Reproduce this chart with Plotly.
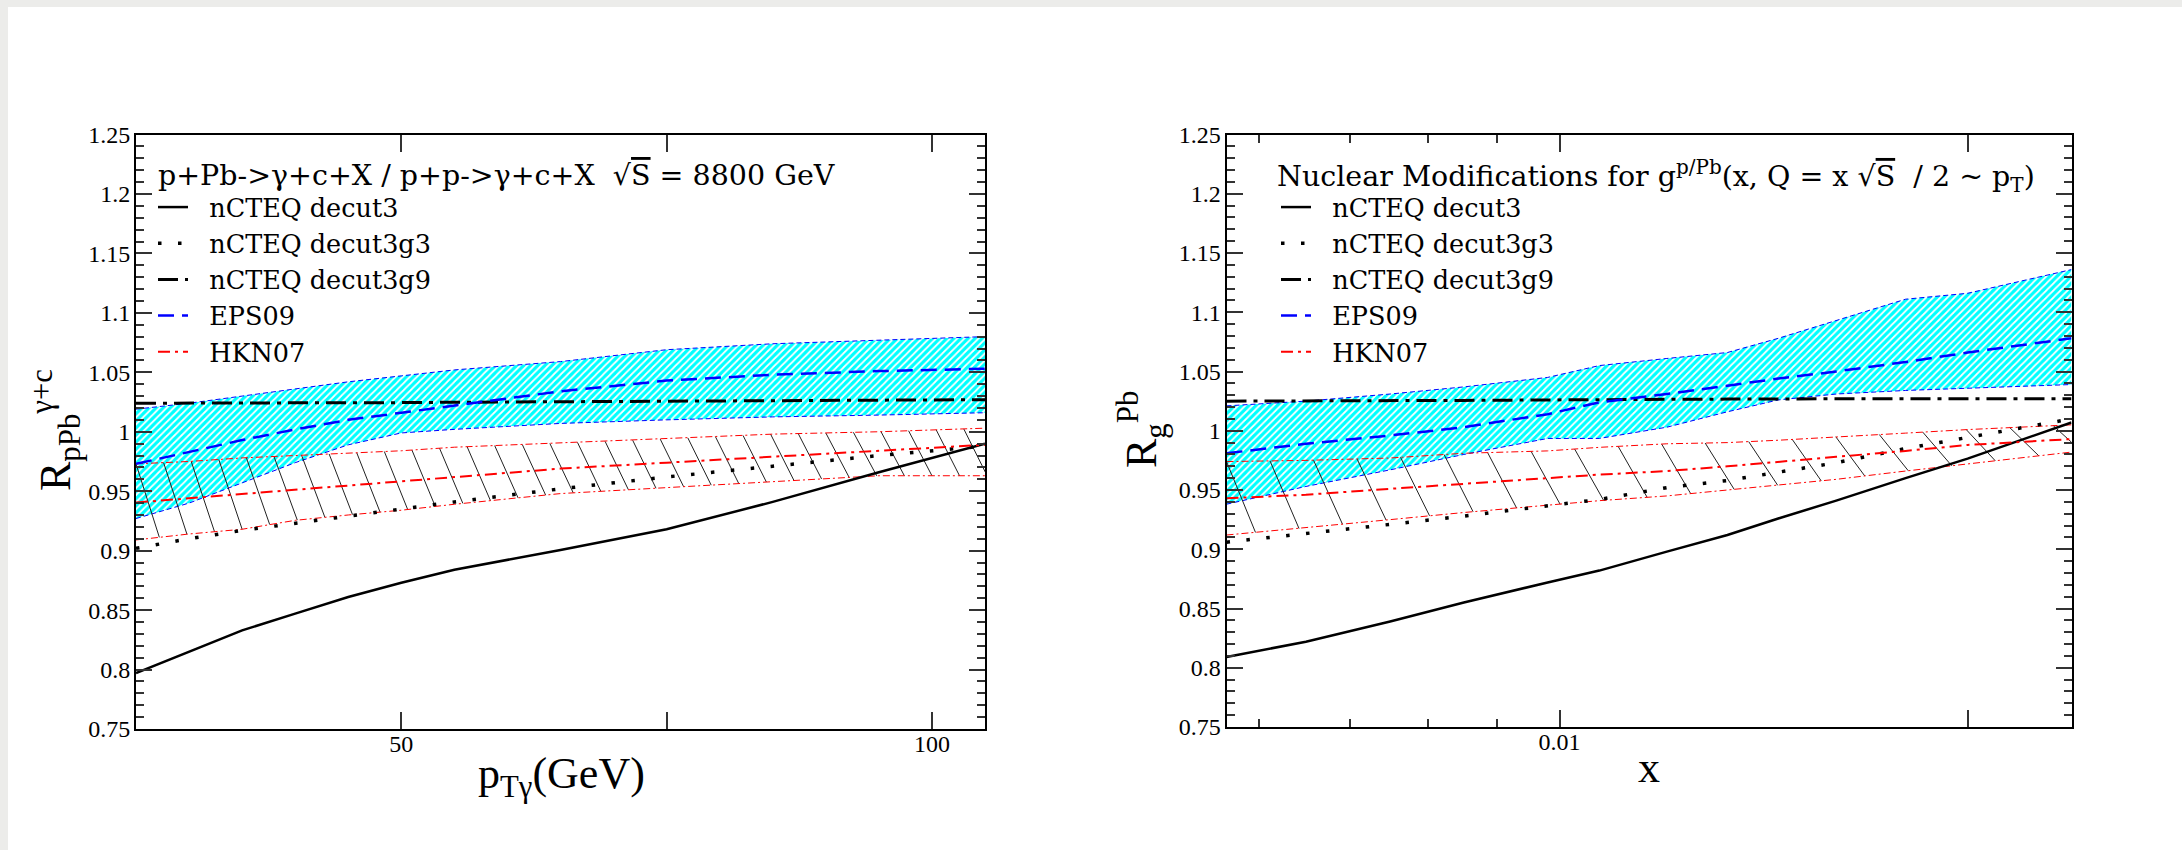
import numpy as np
import plotly.graph_objects as go

W, H = 2182, 850

# ---------------- data: left panel (R_pPb^{gamma+c} vs pT) ----------------
pt = [25, 30, 35, 40, 45, 50, 55, 65, 75, 85, 95, 105]
L_decut3   = [0.797, 0.815, 0.833, 0.847, 0.861, 0.873, 0.884, 0.9005, 0.918, 0.941, 0.966, 0.990]
L_decut3g3 = [0.902, 0.910, 0.917, 0.923, 0.929, 0.935, 0.941, 0.952, 0.962, 0.971, 0.980, 0.988]
L_decut3g9 = [1.024, 1.024, 1.024, 1.024, 1.0242, 1.0245, 1.0248, 1.0252, 1.0256, 1.026, 1.0265, 1.027]
L_eps      = [0.973, 0.983, 0.993, 1.002, 1.010, 1.016, 1.022, 1.034, 1.043, 1.048, 1.051, 1.053]
L_eps_hi   = [1.019, 1.024, 1.030, 1.036, 1.042, 1.047, 1.052, 1.059, 1.069, 1.074, 1.077, 1.080]
L_eps_lo   = [0.927, 0.940, 0.957, 0.974, 0.989, 0.999, 1.002, 1.007, 1.010, 1.0125, 1.014, 1.016]
L_hkn      = [0.9405, 0.944, 0.948, 0.951, 0.955, 0.958, 0.962, 0.969, 0.974, 0.979, 0.984, 0.989]
L_hkn_hi   = [0.973, 0.975, 0.978, 0.980, 0.982, 0.984, 0.987, 0.9905, 0.994, 0.998, 1.000, 1.003]
L_hkn_lo   = [0.909, 0.914, 0.918, 0.9255, 0.930, 0.934, 0.939, 0.948, 0.953, 0.958, 0.963, 0.963]

# ---------------- data: right panel (R_g^Pb vs x) ----------------
xg = [0.00568, 0.0065, 0.0075, 0.0085, 0.0098, 0.0107, 0.012, 0.0133, 0.0145, 0.016, 0.018, 0.02, 0.02386]
R_decut3   = [0.809, 0.822, 0.839, 0.855, 0.872, 0.882, 0.898, 0.912, 0.926, 0.941, 0.960, 0.9765, 1.007]
R_decut3g3 = [0.906, 0.913, 0.921, 0.928, 0.937, 0.942, 0.952, 0.958, 0.965, 0.973, 0.985, 0.9945, 1.010]
R_decut3g9 = [1.025, 1.025, 1.0253, 1.0256, 1.026, 1.026, 1.0265, 1.0267, 1.027, 1.027, 1.027, 1.027, 1.027]
R_eps      = [0.981, 0.989, 0.996, 1.003, 1.014, 1.024, 1.031, 1.038, 1.044, 1.050, 1.058, 1.066, 1.078]
R_eps_hi   = [1.021, 1.025, 1.031, 1.037, 1.045, 1.055, 1.061, 1.066, 1.078, 1.093, 1.111, 1.116, 1.136]
R_eps_lo   = [0.938, 0.953, 0.967, 0.980, 0.9935, 0.9935, 1.003, 1.016, 1.026, 1.031, 1.034, 1.036, 1.039]
R_hkn      = [0.943, 0.946, 0.951, 0.955, 0.960, 0.963, 0.966, 0.970, 0.974, 0.978, 0.983, 0.988, 0.993]
R_hkn_hi   = [0.974, 0.975, 0.977, 0.981, 0.983, 0.986, 0.989, 0.990, 0.992, 0.995, 0.998, 1.001, 1.005]
R_hkn_lo   = [0.912, 0.918, 0.925, 0.931, 0.937, 0.941, 0.945, 0.950, 0.954, 0.959, 0.966, 0.972, 0.982]

# ---------------- ticks / labels ----------------
y_tickvals = [0.75, 0.8, 0.85, 0.9, 0.95, 1.0, 1.05, 1.1, 1.15, 1.2, 1.25]
y_ticktext = ["0.75", "0.8", "0.85", "0.9", "0.95", "1", "1.05", "1.1", "1.15", "1.2", "1.25"]
lx_tickvals = [25, 50, 75, 100]
lx_ticktext = ["", "50", "", "100"]
rx_tickvals = [0.01, 0.02]
rx_ticktext = ["0.01", ""]
rx_minorvals = [0.006, 0.007, 0.008, 0.009]

names = ["nCTEQ decut3", "nCTEQ decut3g3", "nCTEQ decut3g9", "EPS09", "HKN07"]
left_title = "p+Pb->γ+c+X / p+p->γ+c+X  √<span style='text-decoration:overline'>S</span> = 8800 GeV"
right_title = ("Nuclear Modifications for g<sup>p/Pb</sup>(x, Q = x √<span style='text-decoration:overline'>S</span>"
               "  / 2 ~ p<sub>T</sub>)")

TIMES = "Liberation Serif"
LEGF = "DejaVu Serif"

fig = go.Figure()


def hatch_lines(xs, hi, lo, step, dx, log=False):
    t = np.log10(xs) if log else np.asarray(xs, float)
    tops = np.arange(t[0], t[-1] + 1e-9, step)
    bots = tops + dx
    yt = np.interp(tops, t, hi)
    yb = np.interp(bots, t, lo)
    X, Y = [], []
    for a, b, ya, yb_ in zip(tops, bots, yt, yb):
        X += [a, b, None]
        Y += [ya, yb_, None]
    if log:
        X = [None if v is None else 10 ** v for v in X]
    return X, Y


def add_panel(xs, d3, g3, g9, eps, eps_hi, eps_lo, hkn, hkn_hi, hkn_lo, xa, ya, leg, hstep, hdx, log):
    # EPS09 band (cyan hatched)
    fig.add_trace(go.Scatter(x=xs, y=eps_lo, mode="lines", xaxis=xa, yaxis=ya,
                             line=dict(color="blue", width=1, dash="5px,3px"),
                             showlegend=False, hoverinfo="skip"))
    fig.add_trace(go.Scatter(x=xs, y=eps_hi, mode="lines", xaxis=xa, yaxis=ya, fill="tonexty",
                             fillcolor="#00ffff",
                             fillpattern=dict(shape="/", fgcolor="white", bgcolor="#00ffff",
                                              fgopacity=1, size=5, solidity=0.35),
                             line=dict(color="blue", width=1, dash="5px,3px"),
                             showlegend=False, hoverinfo="skip"))
    # HKN07 band hatch
    hx, hy = hatch_lines(xs, hkn_hi, hkn_lo, hstep, hdx, log)
    fig.add_trace(go.Scatter(x=hx, y=hy, mode="lines", xaxis=xa, yaxis=ya,
                             line=dict(color="#222222", width=1),
                             showlegend=False, hoverinfo="skip"))
    for band in (hkn_hi, hkn_lo):
        fig.add_trace(go.Scatter(x=xs, y=band, mode="lines", xaxis=xa, yaxis=ya,
                                 line=dict(color="red", width=1, dash="7px,3px,2px,3px"),
                                 showlegend=False, hoverinfo="skip"))
    # central curves
    styles = [
        (d3, dict(color="black", width=2.5)),
        (g3, dict(color="black", width=3.5, dash="3.5px,16.5px")),
        (g9, dict(color="black", width=3, dash="20px,7px,4px,7px")),
        (eps, dict(color="blue", width=2.5, dash="16px,8px")),
        (hkn, dict(color="red", width=2, dash="12px,5px,3px,5px")),
    ]
    for i, (yy, ln) in enumerate(styles):
        fig.add_trace(go.Scatter(x=xs, y=yy, mode="lines", xaxis=xa, yaxis=ya, line=ln,
                                 name="\u00a0\u00a0" + names[i], legend=leg, legendrank=i + 1,
                                 hoverinfo="skip"))


add_panel(pt, L_decut3, L_decut3g3, L_decut3g9, L_eps, L_eps_hi, L_eps_lo,
          L_hkn, L_hkn_hi, L_hkn_lo, "x", "y", "legend", 2.6, 2.2, False)
add_panel(xg, R_decut3, R_decut3g3, R_decut3g9, R_eps, R_eps_hi, R_eps_lo,
          R_hkn, R_hkn_hi, R_hkn_lo, "x2", "y2", "legend2", 0.0321, 0.0214, True)


def xd(a, b):
    return [a / W, b / W]


def yd(top, bottom):
    return [1 - bottom / H, 1 - top / H]


common = dict(showline=True, linewidth=2, linecolor="black", mirror="ticks", ticks="inside",
              tickcolor="#333333", tickwidth=1.5, showgrid=False, zeroline=False, automargin=False,
              tickfont=dict(family=TIMES, size=24, color="black"))

yax = dict(common, range=[0.75, 1.25], tickmode="array", tickvals=y_tickvals, ticktext=y_ticktext,
           ticklen=16, ticklabelstandoff=-1,
           minor=dict(tickmode="linear", tick0=0.75, dtick=0.01, ticks="inside", ticklen=8,
                      tickwidth=1.5, tickcolor="#333333", showgrid=False))

legend_common = dict(xanchor="left", yanchor="top", bgcolor="rgba(0,0,0,0)", borderwidth=0,
                     itemwidth=30, tracegroupgap=0, traceorder="normal",
                     font=dict(family=LEGF, size=25.5, color="black"))

fig.update_layout(
    width=W, height=H,
    margin=dict(l=0, r=0, t=0, b=0, pad=0, autoexpand=False),
    paper_bgcolor="#ececea",
    plot_bgcolor="white",
    showlegend=True,
    xaxis=dict(common, domain=xd(136, 985), anchor="y", range=[25, 105], tickmode="array",
               tickvals=lx_tickvals, ticktext=lx_ticktext, ticklen=17, ticklabelstandoff=-8),
    yaxis=dict(yax, domain=yd(134.5, 729), anchor="x"),
    xaxis2=dict(common, domain=xd(1226.5, 2071.5), anchor="y2", type="log",
                range=[np.log10(xg[0]), np.log10(xg[-1])], tickmode="array",
                tickvals=rx_tickvals, ticktext=rx_ticktext, ticklen=17, ticklabelstandoff=-8,
                minor=dict(tickmode="array", tickvals=rx_minorvals, ticks="inside", ticklen=8,
                           tickwidth=1.5, tickcolor="#333333", showgrid=False)),
    yaxis2=dict(yax, domain=yd(134.5, 727), anchor="x2"),
    legend=dict(legend_common, x=153 / W, y=1 - 184 / H),
    legend2=dict(legend_common, x=1276 / W, y=1 - 184 / H),
    shapes=[dict(type="rect", xref="paper", yref="paper", x0=8 / W, x1=1, y0=0, y1=1 - 7 / H,
                 fillcolor="white", line=dict(width=0), layer="below")],
    annotations=[
        dict(text=left_title, x=156 / W, y=1 - 176 / H, xref="paper", yref="paper",
             showarrow=False, xanchor="left", yanchor="middle",
             font=dict(family=LEGF, size=28.5, color="black")),
        dict(text=right_title, x=1275 / W, y=1 - 176 / H, xref="paper", yref="paper",
             showarrow=False, xanchor="left", yanchor="middle",
             font=dict(family=LEGF, size=28.5, color="black")),
        dict(text="p<sub>Tγ</sub>(GeV)", x=561 / W, y=1 - 776 / H, xref="paper", yref="paper",
             showarrow=False, xanchor="center", yanchor="middle",
             font=dict(family=TIMES, size=44, color="black")),
        dict(text="x", x=1649 / W, y=1 - 767 / H, xref="paper", yref="paper",
             showarrow=False, xanchor="center", yanchor="middle",
             font=dict(family=TIMES, size=44, color="black")),
        dict(text="R<sub>pPb</sub><sup>γ+c</sup>", x=56 / W, y=1 - 430 / H, xref="paper", yref="paper",
             showarrow=False, xanchor="center", yanchor="middle", textangle=-90,
             font=dict(family=TIMES, size=44, color="black")),
        dict(text="R<sub>g</sub><sup>Pb</sup>", x=1142 / W, y=1 - 430 / H, xref="paper", yref="paper",
             showarrow=False, xanchor="center", yanchor="middle", textangle=-90,
             font=dict(family=TIMES, size=44, color="black")),
    ],
)

fig.write_html("out.html")
